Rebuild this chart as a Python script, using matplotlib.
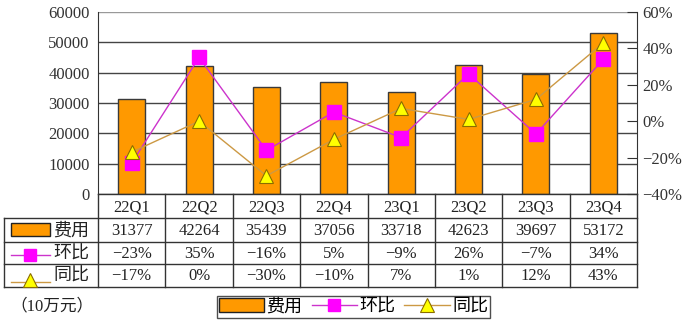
import matplotlib.pyplot as plt
from matplotlib.patches import Patch, Rectangle
from matplotlib.lines import Line2D

plt.rcParams['font.family'] = ['Liberation Serif', 'Noto Sans CJK SC']
plt.rcParams['axes.unicode_minus'] = True

quarters = ["22Q1", "22Q2", "22Q3", "22Q4", "23Q1", "23Q2", "23Q3", "23Q4"]
cost = [31377, 42264, 35439, 37056, 33718, 42623, 39697, 53172]
qoq = [-23, 35, -16, 5, -9, 26, -7, 34]
yoy = [-17, 0, -30, -10, 7, 1, 12, 43]

BAR_C = "#FF9900"
QOQ_C = "#FF00FF"
QOQ_LINE = "#CC33CC"
YOY_C = "#FFFF00"
YOY_LINE = "#CC9944"
EDGE = "#3a3a3a"


def pct(v):
    return f"{v}%".replace("-", "\u2212")


W, H = 700, 334
fig = plt.figure(figsize=(7, 3.34), dpi=100)

# main plot area in pixels
L, R, T, B = 98, 637, 12, 194
ax = fig.add_axes([L / W, 1 - B / H, (R - L) / W, (B - T) / H])
x = list(range(len(quarters)))
ax.set_axisbelow(True)
ax.bar(x, cost, width=0.4, color=BAR_C, edgecolor=EDGE, linewidth=1, zorder=2)
ax.set_xlim(-0.5, 7.5)
ax.set_ylim(0, 60000)
ax.set_yticks(range(0, 60001, 10000))
ax.yaxis.grid(True, color="#444444", linewidth=1)
ax.get_ygridlines()[-1].set_color("#999999")
ax.tick_params(axis="y", length=0, labelsize=12, pad=6, labelcolor="#333333")
ax.set_xticks([])
for s in ["top", "right", "bottom"]:
    ax.spines[s].set_visible(False)
ax.spines["left"].set_color("#333333")

ax2 = ax.twinx()
ax2.plot(x, qoq, color=QOQ_LINE, linewidth=1, marker="s", markersize=9.5,
         markerfacecolor=QOQ_C, markeredgecolor=QOQ_C, zorder=3)
ax2.plot(x, yoy, color=YOY_LINE, linewidth=1, marker="^", markersize=10,
         markerfacecolor=YOY_C, markeredgecolor="#8a6d00", markeredgewidth=0.8, zorder=3)
ax2.set_ylim(-40, 60)
ax2.set_yticks(range(-40, 61, 20))
ax2.set_yticklabels([pct(v) for v in range(-40, 61, 20)])
ax2.tick_params(axis="y", direction="in", length=7, labelsize=12, pad=4,
                labelcolor="#333333", color="#333333")
for s in ["top", "left", "bottom"]:
    ax2.spines[s].set_visible(False)
ax2.spines["right"].set_color("#333333")
ax2.set_xlim(-0.5, 7.5)

# data table under the plot
TL, TB = 4, 287
cw = (R - L) / 8
tab = fig.add_axes([TL / W, 1 - TB / H, (R - TL) / W, (TB - B) / H])
x0 = -0.5 - (L - TL) / cw
tab.set_xlim(x0, 7.5)
tab.set_ylim(TB - B, 0)
tab.axis("off")
rows = [0, 24, 48, 70, 93]
lc = "#333333"
# horizontal lines
tab.plot([-0.5, 7.5], [0, 0], color=lc, lw=1, clip_on=False)
for yy in rows[1:]:
    tab.plot([x0, 7.5], [yy, yy], color=lc, lw=1, clip_on=False)
# vertical lines
for i in range(9):
    tab.plot([i - 0.5, i - 0.5], [0, 93], color=lc, lw=1, clip_on=False)
tab.plot([x0, x0], [24, 93], color=lc, lw=1, clip_on=False)


def mid(a, b):
    return (rows[a] + rows[b]) / 2 + 1


for i, q in enumerate(quarters):
    tab.text(i, mid(0, 1), q, ha="center", va="center", fontsize=12, color="#222222")
    tab.text(i, mid(1, 2), str(cost[i]), ha="center", va="center", fontsize=12, color="#222222")
    tab.text(i, mid(2, 3), pct(qoq[i]), ha="center", va="center", fontsize=12, color="#222222")
    tab.text(i, mid(3, 4), pct(yoy[i]), ha="center", va="center", fontsize=12, color="#222222")

# row labels with legend keys
kx0 = x0 + (11 - TL) / cw
kx1 = x0 + (50 - TL) / cw
kxm = (kx0 + kx1) / 2
tx = x0 + (53 - TL) / cw
tab.add_patch(Rectangle((kx0, 29), kx1 - kx0, 13, facecolor=BAR_C, edgecolor="#222222",
                        lw=1, clip_on=False))
tab.plot([kx0, kx1], [mid(2, 3) + 1, mid(2, 3) + 1], color=QOQ_LINE, lw=1, clip_on=False)
tab.plot([kxm], [mid(2, 3) + 1], marker="s", markersize=8.5, color=QOQ_C, clip_on=False)
tab.plot([kx0, kx1], [mid(3, 4) + 5, mid(3, 4) + 5], color=YOY_LINE, lw=1, clip_on=False)
tab.plot([kxm], [mid(3, 4) + 3], marker="^", markersize=10, markerfacecolor=YOY_C,
         markeredgecolor="#8a6d00", markeredgewidth=0.8, clip_on=False)
tab.text(tx, mid(1, 2), "费用", ha="left", va="center", fontsize=13, color="#222222")
tab.text(tx, mid(2, 3), "环比", ha="left", va="center", fontsize=13, color="#222222")
tab.text(tx, mid(3, 4), "同比", ha="left", va="center", fontsize=13, color="#222222")

fig.text(10 / W, 1 - 306 / H, "（10万元）", ha="left", va="center", fontsize=12, color="#222222")

handles = [
    Patch(facecolor=BAR_C, edgecolor="#222222", lw=1),
    Line2D([], [], color=QOQ_LINE, lw=1, marker="s", markersize=8.5,
           markerfacecolor=QOQ_C, markeredgecolor=QOQ_C),
    Line2D([], [], color=YOY_LINE, lw=1, marker="^", markersize=10,
           markerfacecolor=YOY_C, markeredgecolor="#8a6d00", markeredgewidth=0.8),
]
leg = fig.legend(handles, ["费用", "环比", "同比"], ncol=3, loc="center",
                 bbox_to_anchor=(353.5 / W, 1 - 307 / H), fontsize=13, frameon=True,
                 fancybox=False, edgecolor="#222222", handlelength=2.5, handleheight=0.8,
                 handletextpad=0.15, columnspacing=0.5, borderpad=0.12, borderaxespad=0)
leg.get_frame().set_linewidth(1)

fig.savefig("out.png", dpi=100)
